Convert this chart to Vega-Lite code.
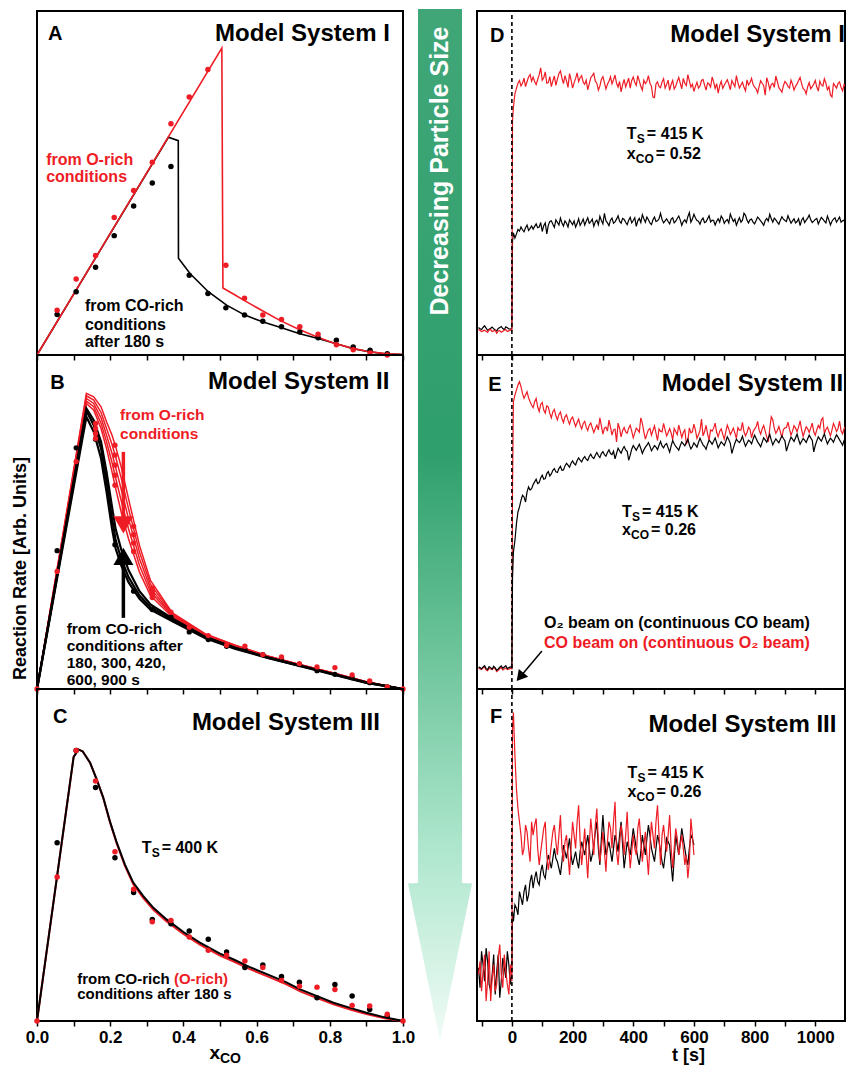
{
"$schema":"https://vega.github.io/schema/vega-lite/v6.json",
"background":"white",
"padding":{"left":9,"top":6,"right":0,"bottom":0},
"config":{"font":"Liberation Sans","view":{"stroke":"black","strokeWidth":2},
"axis":{"grid":false,"domain":false,"tickColor":"black","tickWidth":1.5,"tickSize":5,"labelColor":"black","labelFontSize":17,"labelFontWeight":"bold","labelFont":"Liberation Sans","titleFont":"Liberation Sans","titleColor":"black","titleFontWeight":"bold","labelFlush":false,"labelOverlap":false,"labelBound":false,"labelPadding":3},
"text":{"font":"Liberation Sans","fontWeight":"bold","baseline":"alphabetic","align":"left","color":"#000000"}},
"datasets":{
"A_lines":[
{"s":"b","x":0,"y":0},{"s":"b","x":0.359,"y":0.633},{"s":"b","x":0.386,"y":0.623},{"s":"b","x":0.3865,"y":0.281},{"s":"b","x":0.418,"y":0.237},{"s":"b","x":0.468,"y":0.184},{"s":"b","x":0.518,"y":0.145},{"s":"b","x":0.568,"y":0.116},{"s":"b","x":0.618,"y":0.096},{"s":"b","x":0.668,"y":0.079},{"s":"b","x":0.718,"y":0.062},{"s":"b","x":0.768,"y":0.048},{"s":"b","x":0.818,"y":0.033},{"s":"b","x":0.864,"y":0.018},{"s":"b","x":0.91,"y":0.009},{"s":"b","x":0.955,"y":0.003},{"s":"b","x":1,"y":0.001},
{"s":"r","x":0,"y":0},{"s":"r","x":0.505,"y":0.892},{"s":"r","x":0.508,"y":0.195},{"s":"r","x":0.54,"y":0.175},{"s":"r","x":0.567,"y":0.158},{"s":"r","x":0.617,"y":0.128},{"s":"r","x":0.665,"y":0.1},{"s":"r","x":0.715,"y":0.075},{"s":"r","x":0.764,"y":0.053},{"s":"r","x":0.81,"y":0.035},{"s":"r","x":0.86,"y":0.02},{"s":"r","x":0.9,"y":0.011},{"s":"r","x":0.95,"y":0.004},{"s":"r","x":1,"y":0.001}],
"A_dots":[
{"s":"b","x":0.055,"y":0.118},{"s":"b","x":0.107,"y":0.184},{"s":"b","x":0.16,"y":0.255},{"s":"b","x":0.211,"y":0.347},{"s":"b","x":0.264,"y":0.433},{"s":"b","x":0.315,"y":0.5},{"s":"b","x":0.366,"y":0.548},{"s":"b","x":0.416,"y":0.232},{"s":"b","x":0.467,"y":0.179},{"s":"b","x":0.516,"y":0.137},{"s":"b","x":0.567,"y":0.116},{"s":"b","x":0.617,"y":0.098},{"s":"b","x":0.668,"y":0.082},{"s":"b","x":0.718,"y":0.067},{"s":"b","x":0.768,"y":0.05},{"s":"b","x":0.818,"y":0.043},{"s":"b","x":0.864,"y":0.023},{"s":"b","x":0.91,"y":0.014},{"s":"b","x":0.957,"y":0.004},
{"s":"r","x":0.055,"y":0.13},{"s":"r","x":0.107,"y":0.221},{"s":"r","x":0.16,"y":0.289},{"s":"r","x":0.211,"y":0.4},{"s":"r","x":0.264,"y":0.478},{"s":"r","x":0.315,"y":0.56},{"s":"r","x":0.366,"y":0.672},{"s":"r","x":0.416,"y":0.75},{"s":"r","x":0.467,"y":0.83},{"s":"r","x":0.516,"y":0.261},{"s":"r","x":0.567,"y":0.165},{"s":"r","x":0.617,"y":0.116},{"s":"r","x":0.668,"y":0.103},{"s":"r","x":0.718,"y":0.082},{"s":"r","x":0.768,"y":0.06},{"s":"r","x":0.818,"y":0.03},{"s":"r","x":0.864,"y":0.015},{"s":"r","x":0.91,"y":0.006},{"s":"r","x":0.957,"y":0.0}],
"B_curves":[
{"x":0,"r1":0,"r2":0,"r3":0,"r4":0,"r5":0,"b0":0,"b1":0,"b2":0},
{"x":0.135,"r1":0.885,"r2":0.878,"r3":0.87,"r4":0.862,"r5":0.855,"b0":0.815,"b1":0.832,"b2":0.84},
{"x":0.155,"r1":0.875,"r2":0.865,"r3":0.855,"r4":0.845,"r5":0.835,"b0":0.77,"b1":0.79,"b2":0.805},
{"x":0.175,"r1":0.845,"r2":0.828,"r3":0.812,"r4":0.796,"r5":0.78,"b0":0.69,"b1":0.72,"b2":0.74},
{"x":0.19,"r1":0.8,"r2":0.78,"r3":0.76,"r4":0.74,"r5":0.72,"b0":0.59,"b1":0.62,"b2":0.65},
{"x":0.205,"r1":0.76,"r2":0.732,"r3":0.705,"r4":0.678,"r5":0.65,"b0":0.48,"b1":0.51,"b2":0.545},
{"x":0.215,"r1":0.725,"r2":0.694,"r3":0.662,"r4":0.631,"r5":0.6,"b0":0.42,"b1":0.445,"b2":0.478},
{"x":0.23,"r1":0.665,"r2":0.632,"r3":0.598,"r4":0.564,"r5":0.53,"b0":0.37,"b1":0.39,"b2":0.418},
{"x":0.25,"r1":0.57,"r2":0.54,"r3":0.51,"r4":0.48,"r5":0.45,"b0":0.32,"b1":0.335,"b2":0.356},
{"x":0.28,"r1":0.43,"r2":0.41,"r3":0.39,"r4":0.37,"r5":0.35,"b0":0.27,"b1":0.28,"b2":0.293},
{"x":0.31,"r1":0.325,"r2":0.314,"r3":0.302,"r4":0.291,"r5":0.28,"b0":0.238,"b1":0.245,"b2":0.253},
{"x":0.37,"r1":0.228,"r2":0.225,"r3":0.222,"r4":0.219,"r5":0.215,"b0":0.203,"b1":0.208,"b2":0.211},
{"x":0.46,"r1":0.165,"r2":0.164,"r3":0.163,"r4":0.162,"r5":0.16,"b0":0.152,"b1":0.155,"b2":0.156},
{"x":0.54,"r1":0.132,"r2":0.131,"r3":0.13,"r4":0.129,"r5":0.127,"b0":0.121,"b1":0.123,"b2":0.124},
{"x":0.63,"r1":0.099,"r2":0.099,"r3":0.098,"r4":0.098,"r5":0.097,"b0":0.093,"b1":0.094,"b2":0.095},
{"x":0.72,"r1":0.073,"r2":0.073,"r3":0.072,"r4":0.072,"r5":0.071,"b0":0.068,"b1":0.069,"b2":0.07},
{"x":0.81,"r1":0.048,"r2":0.048,"r3":0.047,"r4":0.047,"r5":0.046,"b0":0.043,"b1":0.044,"b2":0.045},
{"x":0.9,"r1":0.022,"r2":0.022,"r3":0.021,"r4":0.021,"r5":0.02,"b0":0.018,"b1":0.019,"b2":0.02},
{"x":1,"r1":0,"r2":0,"r3":0,"r4":0,"r5":0,"b0":0,"b1":0,"b2":0}],
"B_dots":[
{"s":"b","x":0.055,"y":0.414},{"s":"b","x":0.107,"y":0.722},{"s":"b","x":0.16,"y":0.748},{"s":"b","x":0.213,"y":0.432},{"s":"b","x":0.264,"y":0.293},{"s":"b","x":0.315,"y":0.238},{"s":"b","x":0.366,"y":0.215},{"s":"b","x":0.416,"y":0.171},{"s":"b","x":0.468,"y":0.148},{"s":"b","x":0.518,"y":0.128},{"s":"b","x":0.568,"y":0.118},{"s":"b","x":0.617,"y":0.103},{"s":"b","x":0.668,"y":0.093},{"s":"b","x":0.717,"y":0.073},{"s":"b","x":0.765,"y":0.055},{"s":"b","x":0.814,"y":0.044},{"s":"b","x":0.861,"y":0.034},{"s":"b","x":0.909,"y":0.019},{"s":"b","x":0.957,"y":0.006},
{"s":"r","x":0,"y":0},{"s":"r","x":0.055,"y":0.352},{"s":"r","x":0.107,"y":0.681},{"s":"r","x":0.16,"y":0.795},{"s":"r","x":0.16,"y":0.78},{"s":"r","x":0.16,"y":0.765},{"s":"r","x":0.16,"y":0.75},{"s":"r","x":0.213,"y":0.73},{"s":"r","x":0.213,"y":0.7},{"s":"r","x":0.213,"y":0.67},{"s":"r","x":0.213,"y":0.64},{"s":"r","x":0.213,"y":0.61},{"s":"r","x":0.264,"y":0.487},{"s":"r","x":0.264,"y":0.462},{"s":"r","x":0.264,"y":0.437},{"s":"r","x":0.264,"y":0.412},{"s":"r","x":0.315,"y":0.302},{"s":"r","x":0.315,"y":0.292},{"s":"r","x":0.315,"y":0.283},{"s":"r","x":0.315,"y":0.274},{"s":"r","x":0.366,"y":0.23},{"s":"r","x":0.416,"y":0.185},{"s":"r","x":0.468,"y":0.16},{"s":"r","x":0.518,"y":0.131},{"s":"r","x":0.568,"y":0.128},{"s":"r","x":0.617,"y":0.103},{"s":"r","x":0.668,"y":0.096},{"s":"r","x":0.717,"y":0.076},{"s":"r","x":0.765,"y":0.066},{"s":"r","x":0.814,"y":0.064},{"s":"r","x":0.861,"y":0.042},{"s":"r","x":0.909,"y":0.024},{"s":"r","x":0.957,"y":0.006},{"s":"r","x":1,"y":0}],
"C_curves":[
{"x":0,"b":0,"r":0},{"x":0.1,"b":0.795,"r":0.795},{"x":0.113,"b":0.818,"r":0.818},{"x":0.125,"b":0.812,"r":0.812},{"x":0.145,"b":0.778,"r":0.778},{"x":0.163,"b":0.728,"r":0.728},{"x":0.181,"b":0.673,"r":0.672},{"x":0.199,"b":0.602,"r":0.6},{"x":0.218,"b":0.537,"r":0.534},{"x":0.24,"b":0.472,"r":0.468},{"x":0.263,"b":0.417,"r":0.412},{"x":0.29,"b":0.377,"r":0.371},{"x":0.318,"b":0.341,"r":0.335},{"x":0.354,"b":0.306,"r":0.3},{"x":0.4,"b":0.268,"r":0.262},{"x":0.445,"b":0.236,"r":0.23},{"x":0.5,"b":0.203,"r":0.197},{"x":0.536,"b":0.186,"r":0.18},{"x":0.58,"b":0.163,"r":0.157},{"x":0.628,"b":0.141,"r":0.135},{"x":0.68,"b":0.117,"r":0.111},{"x":0.719,"b":0.095,"r":0.089},{"x":0.76,"b":0.077,"r":0.071},{"x":0.81,"b":0.055,"r":0.05},{"x":0.86,"b":0.038,"r":0.033},{"x":0.9,"b":0.025,"r":0.021},{"x":0.95,"b":0.011,"r":0.008},{"x":1,"b":0,"r":0}],
"C_dots":[
{"s":"b","x":0.055,"y":0.537},{"s":"b","x":0.107,"y":0.815},{"s":"b","x":0.16,"y":0.703},{"s":"b","x":0.213,"y":0.492},{"s":"b","x":0.264,"y":0.387},{"s":"b","x":0.315,"y":0.306},{"s":"b","x":0.366,"y":0.293},{"s":"b","x":0.416,"y":0.271},{"s":"b","x":0.468,"y":0.246},{"s":"b","x":0.518,"y":0.208},{"s":"b","x":0.568,"y":0.161},{"s":"b","x":0.617,"y":0.169},{"s":"b","x":0.668,"y":0.134},{"s":"b","x":0.717,"y":0.117},{"s":"b","x":0.765,"y":0.07},{"s":"b","x":0.814,"y":0.11},{"s":"b","x":0.861,"y":0.075},{"s":"b","x":0.909,"y":0.035},{"s":"b","x":0.957,"y":0.015},
{"s":"r","x":0,"y":0},{"s":"r","x":0.055,"y":0.434},{"s":"r","x":0.107,"y":0.815},{"s":"r","x":0.16,"y":0.723},{"s":"r","x":0.213,"y":0.51},{"s":"r","x":0.264,"y":0.397},{"s":"r","x":0.315,"y":0.299},{"s":"r","x":0.366,"y":0.303},{"s":"r","x":0.416,"y":0.253},{"s":"r","x":0.468,"y":0.213},{"s":"r","x":0.518,"y":0.198},{"s":"r","x":0.568,"y":0.181},{"s":"r","x":0.617,"y":0.161},{"s":"r","x":0.668,"y":0.122},{"s":"r","x":0.717,"y":0.105},{"s":"r","x":0.765,"y":0.102},{"s":"r","x":0.814,"y":0.095},{"s":"r","x":0.861,"y":0.047},{"s":"r","x":0.909,"y":0.045},{"s":"r","x":0.957,"y":0.02},{"s":"r","x":1,"y":0}],
"traces":[
{"t":-110,"Dr":75,"Db":80,"Er":62,"Eb":66,"Fr":140,"Fb":160},
{"t":-100,"Dr":68,"Db":74,"Er":58,"Eb":60,"Fr":90,"Fb":210},
{"t":-90,"Dr":72,"Db":85,"Er":66,"Eb":70,"Fr":200,"Fb":120},
{"t":-80,"Dr":66,"Db":72,"Er":55,"Eb":58,"Fr":120,"Fb":180},
{"t":-70,"Dr":74,"Db":78,"Er":60,"Eb":64,"Fr":60,"Fb":90},
{"t":-60,"Dr":70,"Db":76,"Er":64,"Eb":68,"Fr":170,"Fb":200},
{"t":-50,"Dr":63,"Db":70,"Er":52,"Eb":56,"Fr":110,"Fb":150},
{"t":-40,"Dr":71,"Db":80,"Er":61,"Eb":65,"Fr":230,"Fb":70},
{"t":-30,"Dr":69,"Db":77,"Er":57,"Eb":62,"Fr":100,"Fb":190},
{"t":-20,"Dr":74,"Db":82,"Er":63,"Eb":70,"Fr":150,"Fb":130},
{"t":-10,"Dr":70,"Db":76,"Er":59,"Eb":64,"Fr":80,"Fb":170},
{"t":0,"Dr":72,"Db":78,"Er":60,"Eb":64,"Fr":120,"Fb":150},
{"t":2,"Dr":680,"Db":330,"Er":600,"Eb":330,"Fr":880,"Fb":330},
{"t":5,"Dr":720,"Db":355,"Er":860,"Eb":410,"Fr":929,"Fb":300},
{"t":10,"Dr":760,"Db":340,"Er":880,"Eb":445,"Fr":800,"Fb":350},
{"t":20,"Dr":790,"Db":365,"Er":910,"Eb":530,"Fr":640,"Fb":320},
{"t":30,"Dr":782,"Db":372,"Er":905,"Eb":565,"Fr":560,"Fb":370},
{"t":40,"Dr":805,"Db":358,"Er":870,"Eb":575,"Fr":520,"Fb":390},
{"t":50,"Dr":795,"Db":378,"Er":890,"Eb":590,"Fr":570,"Fb":360},
{"t":60,"Dr":815,"Db":368,"Er":860,"Eb":596,"Fr":480,"Fb":420},
{"t":70,"Dr":808,"Db":366,"Er":842,"Eb":612,"Fr":560,"Fb":400},
{"t":80,"Dr":786,"Db":381,"Er":870,"Eb":628,"Fr":610,"Fb":450},
{"t":90,"Dr":815,"Db":372,"Er":831,"Eb":618,"Fr":470,"Fb":410},
{"t":100,"Dr":799,"Db":359,"Er":858,"Eb":640,"Fr":545,"Fb":470},
{"t":110,"Dr":823,"Db":384,"Er":826,"Eb":630,"Fr":600,"Fb":430},
{"t":120,"Dr":792,"Db":377,"Er":844,"Eb":651,"Fr":455,"Fb":500},
{"t":130,"Dr":780,"Db":390,"Er":812,"Eb":644,"Fr":530,"Fb":460},
{"t":140,"Dr":811,"Db":371,"Er":837,"Eb":660,"Fr":590,"Fb":520},
{"t":150,"Dr":802,"Db":386,"Er":806,"Eb":648,"Fr":500,"Fb":480},
{"t":160,"Dr":826,"Db":398,"Er":829,"Eb":667,"Fr":620,"Fb":440},
{"t":170,"Dr":789,"Db":375,"Er":798,"Eb":656,"Fr":480,"Fb":530},
{"t":180,"Dr":797,"Db":383,"Er":821,"Eb":676,"Fr":560,"Fb":490},
{"t":190,"Dr":818,"Db":393,"Er":793,"Eb":664,"Fr":440,"Fb":550},
{"t":200,"Dr":776,"Db":379,"Er":814,"Eb":683,"Fr":600,"Fb":470},
{"t":210,"Dr":804,"Db":372,"Er":786,"Eb":671,"Fr":520,"Fb":510},
{"t":220,"Dr":795,"Db":396,"Er":808,"Eb":692,"Fr":650,"Fb":460},
{"t":230,"Dr":812,"Db":385,"Er":779,"Eb":680,"Fr":470,"Fb":540},
{"t":240,"Dr":787,"Db":378,"Er":801,"Eb":696,"Fr":580,"Fb":500},
{"t":250,"Dr":771,"Db":399,"Er":774,"Eb":684,"Fr":430,"Fb":560},
{"t":260,"Dr":806,"Db":388,"Er":797,"Eb":703,"Fr":610,"Fb":480},
{"t":270,"Dr":819,"Db":374,"Er":768,"Eb":690,"Fr":500,"Fb":530},
{"t":280,"Dr":790,"Db":392,"Er":790,"Eb":708,"Fr":640,"Fb":600},
{"t":290,"Dr":782,"Db":403,"Er":812,"Eb":693,"Fr":480,"Fb":470},
{"t":300,"Dr":809,"Db":381,"Er":763,"Eb":711,"Fr":570,"Fb":620},
{"t":310,"Dr":773,"Db":390,"Er":784,"Eb":697,"Fr":450,"Fb":500},
{"t":320,"Dr":796,"Db":376,"Er":805,"Eb":716,"Fr":600,"Fb":540},
{"t":330,"Dr":788,"Db":398,"Er":760,"Eb":702,"Fr":520,"Fb":480},
{"t":340,"Dr":814,"Db":387,"Er":778,"Eb":689,"Fr":660,"Fb":560},
{"t":350,"Dr":779,"Db":405,"Er":796,"Eb":721,"Fr":470,"Fb":510},
{"t":360,"Dr":765,"Db":383,"Er":755,"Eb":706,"Fr":590,"Fb":600},
{"t":370,"Dr":801,"Db":394,"Er":783,"Eb":726,"Fr":500,"Fb":460},
{"t":380,"Dr":792,"Db":379,"Er":766,"Eb":712,"Fr":630,"Fb":540},
{"t":390,"Dr":776,"Db":400,"Er":790,"Eb":700,"Fr":460,"Fb":500},
{"t":400,"Dr":808,"Db":391,"Er":752,"Eb":729,"Fr":560,"Fb":580},
{"t":410,"Dr":784,"Db":374,"Er":781,"Eb":715,"Fr":500,"Fb":520},
{"t":420,"Dr":797,"Db":397,"Er":769,"Eb":733,"Fr":610,"Fb":470},
{"t":430,"Dr":770,"Db":408,"Er":795,"Eb":705,"Fr":480,"Fb":560},
{"t":440,"Dr":789,"Db":386,"Er":748,"Eb":724,"Fr":570,"Fb":500},
{"t":450,"Dr":812,"Db":393,"Er":776,"Eb":738,"Fr":440,"Fb":590},
{"t":460,"Dr":781,"Db":379,"Er":760,"Eb":713,"Fr":600,"Fb":520},
{"t":470,"Dr":748,"Db":401,"Er":788,"Eb":729,"Fr":520,"Fb":480},
{"t":480,"Dr":794,"Db":390,"Er":744,"Eb":717,"Fr":650,"Fb":560},
{"t":490,"Dr":777,"Db":412,"Er":772,"Eb":741,"Fr":470,"Fb":510},
{"t":500,"Dr":803,"Db":384,"Er":795,"Eb":722,"Fr":590,"Fb":460},
{"t":510,"Dr":786,"Db":396,"Er":758,"Eb":735,"Fr":510,"Fb":550},
{"t":520,"Dr":769,"Db":381,"Er":780,"Eb":709,"Fr":620,"Fb":530},
{"t":530,"Dr":798,"Db":399,"Er":746,"Eb":744,"Fr":460,"Fb":420},
{"t":540,"Dr":781,"Db":389,"Er":771,"Eb":726,"Fr":580,"Fb":560},
{"t":550,"Dr":807,"Db":404,"Er":790,"Eb":715,"Fr":500,"Fb":500},
{"t":560,"Dr":774,"Db":377,"Er":753,"Eb":740,"Fr":560,"Fb":580},
{"t":570,"Dr":790,"Db":393,"Er":776,"Eb":728,"Fr":470,"Fb":520},
{"t":580,"Dr":815,"Db":402,"Er":742,"Eb":748,"Fr":430,"Fb":470},
{"t":590,"Dr":779,"Db":386,"Er":767,"Eb":719,"Fr":610,"Fb":560},
{"t":600,"Dr":766,"Db":409,"Er":793,"Eb":737,"Fr":500,"Fb":530},
{"t":610,"Dr":793,"Db":391,"Er":750,"Eb":724},
{"t":620,"Dr":782,"Db":380,"Er":774,"Eb":751},
{"t":630,"Dr":801,"Db":398,"Er":758,"Eb":731},
{"t":640,"Dr":770,"Db":387,"Er":789,"Eb":718},
{"t":650,"Dr":788,"Db":405,"Er":745,"Eb":745},
{"t":660,"Dr":808,"Db":392,"Er":772,"Eb":733},
{"t":670,"Dr":775,"Db":378,"Er":796,"Eb":752},
{"t":680,"Dr":761,"Db":396,"Er":755,"Eb":722},
{"t":690,"Dr":796,"Db":404,"Er":779,"Eb":740},
{"t":700,"Dr":784,"Db":383,"Er":748,"Eb":729},
{"t":710,"Dr":800,"Db":394,"Er":790,"Eb":755},
{"t":720,"Dr":771,"Db":410,"Er":762,"Eb":735},
{"t":730,"Dr":789,"Db":388,"Er":781,"Eb":721},
{"t":740,"Dr":812,"Db":377,"Er":750,"Eb":748},
{"t":750,"Dr":776,"Db":399,"Er":775,"Eb":738},
{"t":760,"Dr":793,"Db":392,"Er":798,"Eb":757},
{"t":770,"Dr":768,"Db":406,"Er":758,"Eb":727},
{"t":780,"Dr":785,"Db":384,"Er":784,"Eb":745},
{"t":790,"Dr":804,"Db":395,"Er":752,"Eb":734},
{"t":800,"Dr":779,"Db":381,"Er":778,"Eb":760},
{"t":810,"Dr":762,"Db":401,"Er":801,"Eb":740},
{"t":820,"Dr":797,"Db":390,"Er":763,"Eb":725},
{"t":830,"Dr":783,"Db":377,"Er":789,"Eb":752},
{"t":840,"Dr":806,"Db":397,"Er":755,"Eb":739},
{"t":850,"Dr":772,"Db":409,"Er":780,"Eb":762},
{"t":860,"Dr":790,"Db":386,"Er":806,"Eb":731},
{"t":870,"Dr":811,"Db":393,"Er":766,"Eb":749},
{"t":880,"Dr":777,"Db":380,"Er":786,"Eb":737},
{"t":890,"Dr":764,"Db":402,"Er":752,"Eb":758},
{"t":900,"Dr":795,"Db":391,"Er":782,"Eb":743},
{"t":910,"Dr":781,"Db":405,"Er":799,"Eb":728},
{"t":920,"Dr":799,"Db":383,"Er":760,"Eb":754},
{"t":930,"Dr":770,"Db":396,"Er":788,"Eb":741},
{"t":940,"Dr":788,"Db":388,"Er":770,"Eb":763},
{"t":950,"Dr":807,"Db":376,"Er":803,"Eb":733},
{"t":960,"Dr":774,"Db":399,"Er":757,"Eb":750},
{"t":970,"Dr":759,"Db":392,"Er":785,"Eb":738},
{"t":980,"Dr":792,"Db":407,"Er":768,"Eb":760},
{"t":990,"Dr":780,"Db":385,"Er":796,"Eb":745},
{"t":1000,"Dr":798,"Db":394,"Er":760,"Eb":729},
{"t":1010,"Dr":767,"Db":381,"Er":789,"Eb":755},
{"t":1020,"Dr":785,"Db":400,"Er":806,"Eb":742},
{"t":1030,"Dr":803,"Db":389,"Er":765,"Eb":764},
{"t":1040,"Dr":771,"Db":404,"Er":784,"Eb":734},
{"t":1050,"Dr":756,"Db":378,"Er":758,"Eb":751},
{"t":1060,"Dr":789,"Db":395,"Er":795,"Eb":739},
{"t":1070,"Dr":776,"Db":386,"Er":771,"Eb":761},
{"t":1080,"Dr":794,"Db":401,"Er":802,"Eb":746},
{"t":1090,"Dr":768,"Db":390,"Er":764,"Eb":730},
{"t":1100,"Dr":781,"Db":383,"Er":787,"Eb":753},
{"t":-105,"Dr":71,"Db":76,"Er":60,"Eb":64,"Fr":180,"Fb":100},
{"t":-95,"Dr":70,"Db":80,"Er":63,"Eb":66,"Fr":150,"Fb":170},
{"t":-85,"Dr":69,"Db":78,"Er":57,"Eb":61,"Fr":60,"Fb":220},
{"t":-75,"Dr":73,"Db":75,"Er":62,"Eb":67,"Fr":210,"Fb":110},
{"t":-65,"Dr":68,"Db":81,"Er":58,"Eb":59,"Fr":130,"Fb":140},
{"t":-55,"Dr":72,"Db":73,"Er":61,"Eb":63,"Fr":90,"Fb":80},
{"t":-45,"Dr":70,"Db":77,"Er":56,"Eb":60,"Fr":190,"Fb":200},
{"t":-35,"Dr":66,"Db":83,"Er":64,"Eb":69,"Fr":140,"Fb":120},
{"t":-25,"Dr":72,"Db":74,"Er":60,"Eb":66,"Fr":200,"Fb":160},
{"t":-15,"Dr":68,"Db":79,"Er":58,"Eb":61,"Fr":110,"Fb":210},
{"t":-5,"Dr":73,"Db":75,"Er":62,"Eb":66,"Fr":170,"Fb":110},
{"t":15,"Dr":775,"Db":352,"Er":895,"Eb":495,"Fr":700,"Fb":340},
{"t":25,"Dr":798,"Db":360,"Er":920,"Eb":545,"Fr":600,"Fb":390},
{"t":35,"Dr":790,"Db":364,"Er":885,"Eb":580,"Fr":500,"Fb":350},
{"t":45,"Dr":780,"Db":370,"Er":880,"Eb":560,"Fr":590,"Fb":410},
{"t":55,"Dr":808,"Db":362,"Er":872,"Eb":605,"Fr":520,"Fb":380},
{"t":65,"Dr":796,"Db":375,"Er":850,"Eb":600,"Fr":600,"Fb":440},
{"t":75,"Dr":795,"Db":374,"Er":860,"Eb":620,"Fr":590,"Fb":430},
{"t":85,"Dr":801,"Db":370,"Er":845,"Eb":615,"Fr":520,"Fb":420},
{"t":95,"Dr":835,"Db":385,"Er":852,"Eb":632,"Fr":510,"Fb":450},
{"t":105,"Dr":806,"Db":376,"Er":835,"Eb":628,"Fr":580,"Fb":440},
{"t":115,"Dr":790,"Db":352,"Er":848,"Eb":645,"Fr":500,"Fb":470},
{"t":125,"Dr":809,"Db":388,"Er":825,"Eb":638,"Fr":490,"Fb":480},
{"t":135,"Dr":797,"Db":380,"Er":830,"Eb":655,"Fr":570,"Fb":490},
{"t":145,"Dr":784,"Db":393,"Er":818,"Eb":650,"Fr":540,"Fb":490},
{"t":155,"Dr":818,"Db":378,"Er":822,"Eb":660,"Fr":560,"Fb":460},
{"t":165,"Dr":805,"Db":384,"Er":810,"Eb":655,"Fr":520,"Fb":480},
{"t":175,"Dr":812,"Db":390,"Er":815,"Eb":668,"Fr":540,"Fb":510},
{"t":185,"Dr":778,"Db":372,"Er":805,"Eb":670,"Fr":500,"Fb":520},
{"t":195,"Dr":800,"Db":386,"Er":808,"Eb":676,"Fr":520,"Fb":500},
{"t":205,"Dr":791,"Db":390,"Er":800,"Eb":675,"Fr":560,"Fb":490},
{"t":215,"Dr":820,"Db":382,"Er":798,"Eb":684,"Fr":600,"Fb":480},
{"t":225,"Dr":806,"Db":377,"Er":790,"Eb":685,"Fr":540,"Fb":510},
{"t":235,"Dr":793,"Db":395,"Er":795,"Eb":690,"Fr":520,"Fb":520},
{"t":245,"Dr":799,"Db":389,"Er":784,"Eb":688,"Fr":500,"Fb":530},
{"t":255,"Dr":788,"Db":383,"Er":790,"Eb":696,"Fr":530,"Fb":520},
{"t":265,"Dr":812,"Db":395,"Er":782,"Eb":694,"Fr":560,"Fb":500},
{"t":275,"Dr":796,"Db":387,"Er":780,"Eb":700,"Fr":590,"Fb":570},
{"t":285,"Dr":770,"Db":379,"Er":776,"Eb":699,"Fr":540,"Fb":520},
{"t":295,"Dr":801,"Db":391,"Er":788,"Eb":705,"Fr":520,"Fb":550},
{"t":305,"Dr":792,"Db":412,"Er":781,"Eb":702,"Fr":510,"Fb":550},
{"t":315,"Dr":787,"Db":384,"Er":772,"Eb":708,"Fr":540,"Fb":520},
{"t":325,"Dr":809,"Db":392,"Er":784,"Eb":705,"Fr":580,"Fb":510},
{"t":335,"Dr":800,"Db":383,"Er":776,"Eb":712,"Fr":600,"Fb":520},
{"t":345,"Dr":790,"Db":395,"Er":740,"Eb":705,"Fr":510,"Fb":540},
{"t":355,"Dr":795,"Db":389,"Er":780,"Eb":713,"Fr":530,"Fb":560},
{"t":365,"Dr":786,"Db":397,"Er":774,"Eb":718,"Fr":560,"Fb":530},
{"t":375,"Dr":779,"Db":386,"Er":770,"Eb":716,"Fr":560,"Fb":500},
{"t":385,"Dr":805,"Db":392,"Er":781,"Eb":685,"Fr":530,"Fb":520},
{"t":395,"Dr":798,"Db":384,"Er":772,"Eb":718,"Fr":510,"Fb":540},
{"t":405,"Dr":793,"Db":399,"Er":766,"Eb":722,"Fr":520,"Fb":550},
{"t":415,"Dr":812,"Db":390,"Er":776,"Eb":724,"Fr":580,"Fb":490},
{"t":425,"Dr":781,"Db":385,"Er":812,"Eb":720,"Fr":540,"Fb":510},
{"t":435,"Dr":799,"Db":396,"Er":770,"Eb":716,"Fr":530,"Fb":530},
{"t":445,"Dr":795,"Db":401,"Er":763,"Eb":730,"Fr":500,"Fb":550},
{"t":455,"Dr":790,"Db":384,"Er":780,"Eb":727,"Fr":530,"Fb":560},
{"t":465,"Dr":750,"Db":393,"Er":774,"Eb":721,"Fr":560,"Fb":500},
{"t":475,"Dr":788,"Db":388,"Er":766,"Eb":724,"Fr":600,"Fb":520},
{"t":485,"Dr":780,"Db":396,"Er":778,"Eb":730,"Fr":560,"Fb":540},
{"t":495,"Dr":794,"Db":394,"Er":770,"Eb":728,"Fr":560,"Fb":480},
{"t":505,"Dr":776,"Db":390,"Er":776,"Eb":731,"Fr":540,"Fb":500},
{"t":515,"Dr":799,"Db":388,"Er":768,"Eb":722,"Fr":560,"Fb":540},
{"t":525,"Dr":787,"Db":395,"Er":766,"Eb":728,"Fr":520,"Fb":470},
{"t":535,"Dr":773,"Db":384,"Er":780,"Eb":734,"Fr":520,"Fb":490},
{"t":545,"Dr":795,"Db":397,"Er":762,"Eb":721,"Fr":550,"Fb":530},
{"t":555,"Dr":790,"Db":392,"Er":772,"Eb":729,"Fr":530,"Fb":540},
{"t":565,"Dr":804,"Db":388,"Er":768,"Eb":734,"Fr":520,"Fb":550},
{"t":575,"Dr":783,"Db":385,"Er":735,"Eb":738,"Fr":500,"Fb":490},
{"t":585,"Dr":797,"Db":414,"Er":782,"Eb":731,"Fr":480,"Fb":520},
{"t":595,"Dr":787,"Db":395,"Er":770,"Eb":726,"Fr":560,"Fb":550},
{"t":605,"Dr":781,"Db":398,"Er":775,"Eb":731},
{"t":615,"Dr":776,"Db":389,"Er":761,"Eb":738},
{"t":625,"Dr":798,"Db":392,"Er":808,"Eb":740},
{"t":635,"Dr":785,"Db":385,"Er":770,"Eb":726},
{"t":645,"Dr":791,"Db":396,"Er":764,"Eb":733},
{"t":655,"Dr":779,"Db":387,"Er":776,"Eb":740},
{"t":665,"Dr":794,"Db":391,"Er":781,"Eb":742},
{"t":675,"Dr":789,"Db":389,"Er":768,"Eb":737},
{"t":685,"Dr":783,"Db":386,"Er":772,"Eb":731},
{"t":695,"Dr":775,"Db":397,"Er":763,"Eb":735},
{"t":705,"Dr":792,"Db":390,"Er":769,"Eb":741},
{"t":715,"Dr":787,"Db":384,"Er":778,"Eb":746},
{"t":725,"Dr":798,"Db":398,"Er":771,"Eb":705},
{"t":735,"Dr":780,"Db":395,"Er":766,"Eb":736},
{"t":745,"Dr":792,"Db":389,"Er":783,"Eb":742},
{"t":755,"Dr":785,"Db":386,"Er":775,"Eb":745},
{"t":765,"Dr":779,"Db":412,"Er":770,"Eb":740},
{"t":775,"Dr":800,"Db":392,"Er":768,"Eb":736},
{"t":785,"Dr":792,"Db":393,"Er":777,"Eb":741},
{"t":795,"Dr":786,"Db":386,"Er":770,"Eb":748},
{"t":805,"Dr":774,"Db":391,"Er":785,"Eb":750},
{"t":815,"Dr":781,"Db":396,"Er":775,"Eb":733},
{"t":825,"Dr":790,"Db":384,"Er":779,"Eb":739},
{"t":835,"Dr":755,"Db":391,"Er":772,"Eb":746},
{"t":845,"Dr":792,"Db":389,"Er":740,"Eb":751},
{"t":855,"Dr":786,"Db":396,"Er":815,"Eb":745},
{"t":865,"Dr":778,"Db":398,"Er":780,"Eb":740},
{"t":875,"Dr":795,"Db":386,"Er":774,"Eb":743},
{"t":885,"Dr":771,"Db":392,"Er":770,"Eb":748},
{"t":895,"Dr":783,"Db":395,"Er":777,"Eb":750},
{"t":905,"Dr":790,"Db":388,"Er":783,"Eb":712},
{"t":915,"Dr":776,"Db":394,"Er":778,"Eb":742},
{"t":925,"Dr":787,"Db":390,"Er":772,"Eb":748},
{"t":935,"Dr":781,"Db":384,"Er":781,"Eb":752},
{"t":945,"Dr":798,"Db":396,"Er":785,"Eb":747},
{"t":955,"Dr":789,"Db":392,"Er":776,"Eb":742},
{"t":965,"Dr":771,"Db":385,"Er":771,"Eb":745},
{"t":975,"Dr":780,"Db":398,"Er":779,"Eb":749},
{"t":985,"Dr":774,"Db":393,"Er":782,"Eb":752},
{"t":995,"Dr":788,"Db":389,"Er":770,"Eb":710},
{"t":1005,"Dr":779,"Db":397,"Er":776,"Eb":743},
{"t":1015,"Dr":796,"Db":391,"Er":781,"Eb":748},
{"t":1025,"Dr":782,"Db":395,"Er":812,"Eb":753},
{"t":1035,"Dr":790,"Db":384,"Er":777,"Eb":748},
{"t":1045,"Dr":780,"Db":392,"Er":771,"Eb":743},
{"t":1055,"Dr":750,"Db":389,"Er":775,"Eb":746},
{"t":1065,"Dr":783,"Db":399,"Er":784,"Eb":751},
{"t":1075,"Dr":789,"Db":393,"Er":780,"Eb":754},
{"t":1085,"Dr":778,"Db":386,"Er":773,"Eb":738},
{"t":1095,"Dr":786,"Db":392,"Er":779,"Eb":744}]
},
"columns":3,"spacing":0,"bounds":"flush",
"concat":[
{"width":366,"height":344,
"encoding":{"x":{"field":"x","type":"quantitative","scale":{"domain":[0,1]},"axis":{"values":[0,0.1,0.2,0.3,0.4,0.5,0.6,0.7,0.8,0.9,1],"labels":false,"title":null}},
"y":{"field":"y","type":"quantitative","scale":{"domain":[0,1]},"axis":null}},
"layer":[
{"data":{"name":"A_lines"},"mark":{"type":"line","strokeWidth":1.6},"encoding":{"color":{"field":"s","type":"nominal","scale":{"domain":["b","r"],"range":["#000000","#ee1c25"]},"legend":null}}},
{"data":{"name":"A_dots"},"mark":{"type":"point","filled":true,"size":30,"opacity":1},"encoding":{"color":{"field":"s","type":"nominal","scale":{"domain":["b","r"],"range":["#000000","#ee1c25"]},"legend":null}}},
{"data":{"values":[{"x":0.03,"y":0.917,"txt":"A"}]},"mark":{"type":"text","fontSize":20},"encoding":{"text":{"field":"txt"}}},
{"data":{"values":[{"x":0.964,"y":0.914,"txt":"Model System I"}]},"mark":{"type":"text","fontSize":24,"align":"right"},"encoding":{"text":{"field":"txt"}}},
{"data":{"values":[{"x":0.025,"y":0.553,"txt":"from O-rich"},{"x":0.025,"y":0.504,"txt":"conditions"}]},"mark":{"type":"text","fontSize":16,"color":"#ee1c25"},"encoding":{"text":{"field":"txt"}}},
{"data":{"values":[{"x":0.131,"y":0.127,"txt":"from CO-rich"},{"x":0.131,"y":0.074,"txt":"conditions"},{"x":0.131,"y":0.023,"txt":"after 180 s"}]},"mark":{"type":"text","fontSize":16},"encoding":{"text":{"field":"txt"}}}
]},
{"width":74,"height":344,"view":{"stroke":null},
"layer":[
{"data":{"values":[{"p":-2,"lo":-22,"hi":22},{"p":872,"lo":-22,"hi":22},{"p":872.5,"lo":-32,"hi":32},{"p":1030,"lo":0,"hi":0}]},
"mark":{"type":"area","orient":"horizontal","color":{"gradient":"linear","x1":0,"y1":0,"x2":0,"y2":1,"stops":[{"offset":0,"color":"#40a678"},{"offset":0.43,"color":"#2f9f6d"},{"offset":0.575,"color":"#5cbb8e"},{"offset":0.817,"color":"#afe7ce"},{"offset":1,"color":"#f0fbf6"}]}},
"encoding":{"y":{"field":"p","type":"quantitative","scale":{"domain":[0,344],"reverse":true},"axis":null},"x":{"field":"lo","type":"quantitative","scale":{"domain":[-37,37]},"axis":null},"x2":{"field":"hi"}}},
{"data":{"values":[{"p":160,"lo":0,"txt":"Decreasing Particle Size"}]},"mark":{"type":"text","angle":270,"color":"white","fontSize":25,"align":"center","baseline":"middle"},
"encoding":{"y":{"field":"p","type":"quantitative","scale":{"domain":[0,344],"reverse":true},"axis":null},"x":{"field":"lo","type":"quantitative","scale":{"domain":[-37,37]},"axis":null},"text":{"field":"txt"}}}
]},
{"width":368,"height":344,
"encoding":{"x":{"field":"t","type":"quantitative","scale":{"domain":[-115,1098]},"axis":{"values":[-100,0,100,200,300,400,500,600,700,800,900,1000],"labels":false,"title":null}},
"y":{"field":"v","type":"quantitative","scale":{"domain":[0,1000]},"axis":null}},
"layer":[
{"data":{"name":"traces"},"transform":[{"fold":["Db","Dr"],"as":["s","v"]}],"mark":{"type":"line","strokeWidth":1.2,"clip":true},"encoding":{"color":{"field":"s","type":"nominal","scale":{"domain":["Db","Dr"],"range":["#000000","#ee1c25"]},"legend":null}}},
{"data":{"values":[{"t":0,"v":0},{"t":0,"v":1000}]},"mark":{"type":"line","color":"#000000","strokeWidth":1.6,"strokeDash":[4,3]},"encoding":{}},
{"data":{"values":[{"t":-72,"v":911,"txt":"D"}]},"mark":{"type":"text","fontSize":20},"encoding":{"text":{"field":"txt"}}},
{"data":{"values":[{"t":522,"v":911,"txt":"Model System I"}]},"mark":{"type":"text","fontSize":24,"clip":true},"encoding":{"text":{"field":"txt"}}},
{"data":{"values":[{"t":379,"v":628,"b":"T"},{"t":379,"v":570,"b":"x"}]},"mark":{"type":"text","fontSize":16},"encoding":{"text":{"field":"b"}}},
{"data":{"values":[{"t":379,"v":628,"s":"S","r":"= 415 K"}]},"mark":{"type":"text","fontSize":12,"dx":10,"dy":4},"encoding":{"text":{"field":"s"}}},
{"data":{"values":[{"t":379,"v":628,"s":"S","r":"= 415 K"}]},"mark":{"type":"text","fontSize":16,"dx":20},"encoding":{"text":{"field":"r"}}},
{"data":{"values":[{"t":379,"v":570,"s":"CO","r":"= 0.52"}]},"mark":{"type":"text","fontSize":12,"dx":9,"dy":4},"encoding":{"text":{"field":"s"}}},
{"data":{"values":[{"t":379,"v":570,"s":"CO","r":"= 0.52"}]},"mark":{"type":"text","fontSize":16,"dx":29},"encoding":{"text":{"field":"r"}}}
]},
{"width":366,"height":334,
"encoding":{"x":{"field":"x","type":"quantitative","scale":{"domain":[0,1]},"axis":{"values":[0,0.1,0.2,0.3,0.4,0.5,0.6,0.7,0.8,0.9,1],"labels":false,"title":null}},
"y":{"field":"y","type":"quantitative","scale":{"domain":[0,1]},"axis":{"title":"Reaction Rate [Arb. Units]","labels":false,"ticks":false,"domain":false,"titleX":-17,"titleY":213,"titleAngle":270,"titleAlign":"center","titleBaseline":"middle","titleFontSize":18}}},
"layer":[
{"data":{"name":"B_curves"},"transform":[{"fold":["r1","r2","r3","r4","r5"],"as":["c","y"]}],"mark":{"type":"line","color":"#ee1c25","strokeWidth":1.5},"encoding":{"detail":{"field":"c"}}},
{"data":{"name":"B_curves"},"transform":[{"fold":["b0","b1","b2"],"as":["c","y"]}],"mark":{"type":"line","color":"#000000","strokeWidth":2.2},"encoding":{"detail":{"field":"c"}}},
{"data":{"name":"B_dots"},"mark":{"type":"point","filled":true,"size":28,"opacity":1},"encoding":{"color":{"field":"s","type":"nominal","scale":{"domain":["b","r"],"range":["#000000","#ee1c25"]},"legend":null}}},
{"data":{"values":[{"x":0.236,"y":0.71},{"x":0.236,"y":0.515}]},"mark":{"type":"line","color":"#ee1c25","strokeWidth":3.5},"encoding":{}},
{"data":{"values":[{"x":0.236,"y":0.4915}]},"mark":{"type":"point","shape":"triangle-down","size":400,"filled":true,"opacity":1,"color":"#ee1c25"},"encoding":{}},
{"data":{"values":[{"x":0.236,"y":0.213},{"x":0.236,"y":0.375}]},"mark":{"type":"line","color":"#000000","strokeWidth":3.5},"encoding":{}},
{"data":{"values":[{"x":0.236,"y":0.397}]},"mark":{"type":"point","shape":"triangle-up","size":400,"filled":true,"opacity":1,"color":"#000000"},"encoding":{}},
{"data":{"values":[{"x":0.036,"y":0.899,"txt":"B"}]},"mark":{"type":"text","fontSize":20},"encoding":{"text":{"field":"txt"}}},
{"data":{"values":[{"x":0.963,"y":0.899,"txt":"Model System II"}]},"mark":{"type":"text","fontSize":24,"align":"right"},"encoding":{"text":{"field":"txt"}}},
{"data":{"values":[{"x":0.227,"y":0.805,"txt":"from O-rich"},{"x":0.227,"y":0.75,"txt":"conditions"}]},"mark":{"type":"text","fontSize":15.5,"color":"#ee1c25"},"encoding":{"text":{"field":"txt"}}},
{"data":{"values":[{"x":0.081,"y":0.165,"txt":"from CO-rich"},{"x":0.081,"y":0.113,"txt":"conditions after"},{"x":0.081,"y":0.062,"txt":"180, 300, 420,"},{"x":0.081,"y":0.012,"txt":"600, 900 s"}]},"mark":{"type":"text","fontSize":15.5},"encoding":{"text":{"field":"txt"}}}
]},
{"width":74,"height":334,"view":{"stroke":null},"data":{"values":[{"a":1}]},"mark":{"type":"text","text":" "}},
{"width":368,"height":334,
"encoding":{"x":{"field":"t","type":"quantitative","scale":{"domain":[-115,1098]},"axis":{"values":[-100,0,100,200,300,400,500,600,700,800,900,1000],"labels":false,"title":null}},
"y":{"field":"v","type":"quantitative","scale":{"domain":[0,1000]},"axis":null}},
"layer":[
{"data":{"name":"traces"},"transform":[{"fold":["Er","Eb"],"as":["s","v"]}],"mark":{"type":"line","strokeWidth":1.2,"clip":true},"encoding":{"color":{"field":"s","type":"nominal","scale":{"domain":["Eb","Er"],"range":["#000000","#ee1c25"]},"legend":null}}},
{"data":{"values":[{"t":0,"v":0},{"t":0,"v":1000}]},"mark":{"type":"line","color":"#000000","strokeWidth":1.6,"strokeDash":[4,3]},"encoding":{}},
{"data":{"values":[{"t":-78,"v":893,"txt":"E"}]},"mark":{"type":"text","fontSize":20},"encoding":{"text":{"field":"txt"}}},
{"data":{"values":[{"t":494,"v":893,"txt":"Model System II"}]},"mark":{"type":"text","fontSize":24,"clip":true},"encoding":{"text":{"field":"txt"}}},
{"data":{"values":[{"t":363,"v":514,"b":"T"},{"t":363,"v":462,"b":"x"}]},"mark":{"type":"text","fontSize":16},"encoding":{"text":{"field":"b"}}},
{"data":{"values":[{"t":363,"v":514,"s":"S","r":"= 415 K"}]},"mark":{"type":"text","fontSize":12,"dx":10,"dy":4},"encoding":{"text":{"field":"s"}}},
{"data":{"values":[{"t":363,"v":514,"s":"S","r":"= 415 K"}]},"mark":{"type":"text","fontSize":16,"dx":20},"encoding":{"text":{"field":"r"}}},
{"data":{"values":[{"t":363,"v":462,"s":"CO","r":"= 0.26"}]},"mark":{"type":"text","fontSize":12,"dx":9,"dy":4},"encoding":{"text":{"field":"s"}}},
{"data":{"values":[{"t":363,"v":462,"s":"CO","r":"= 0.26"}]},"mark":{"type":"text","fontSize":16,"dx":29},"encoding":{"text":{"field":"r"}}},
{"data":{"values":[{"t":106,"v":183,"txt":"O₂ beam on (continuous CO beam)"}]},"mark":{"type":"text","fontSize":16},"encoding":{"text":{"field":"txt"}}},
{"data":{"values":[{"t":106,"v":122,"txt":"CO beam on (continuous O₂ beam)"}]},"mark":{"type":"text","fontSize":16,"color":"#ee1c25"},"encoding":{"text":{"field":"txt"}}},
{"data":{"values":[{"t":99,"v":114},{"t":27,"v":36}]},"mark":{"type":"line","color":"#000000","strokeWidth":1.5},"encoding":{}},
{"data":{"values":[{"t":27,"v":36}]},"mark":{"type":"point","shape":"triangle-up","angle":220,"size":150,"filled":true,"opacity":1,"color":"#000000"},"encoding":{}}
]},
{"width":366,"height":332,
"encoding":{"x":{"field":"x","type":"quantitative","scale":{"domain":[0,1]},"axis":{"values":[0,0.1,0.2,0.3,0.4,0.5,0.6,0.7,0.8,0.9,1],"labelExpr":"round(datum.value*10) % 2 === 0 ? format(datum.value, '.1f') : ''","title":null}},
"y":{"field":"y","type":"quantitative","scale":{"domain":[0,1]},"axis":null}},
"layer":[
{"data":{"name":"C_curves"},"transform":[{"fold":["r"],"as":["c","y"]}],"mark":{"type":"line","color":"#ee1c25","strokeWidth":2},"encoding":{}},
{"data":{"name":"C_curves"},"transform":[{"fold":["b"],"as":["c","y"]}],"mark":{"type":"line","color":"#000000","strokeWidth":2},"encoding":{}},
{"data":{"name":"C_dots"},"mark":{"type":"point","filled":true,"size":30,"opacity":1},"encoding":{"color":{"field":"s","type":"nominal","scale":{"domain":["b","r"],"range":["#000000","#ee1c25"]},"legend":null}}},
{"data":{"values":[{"x":0.044,"y":0.898,"txt":"C"}]},"mark":{"type":"text","fontSize":20},"encoding":{"text":{"field":"txt"}}},
{"data":{"values":[{"x":0.937,"y":0.876,"txt":"Model System III"}]},"mark":{"type":"text","fontSize":24,"align":"right"},"encoding":{"text":{"field":"txt"}}},
{"data":{"values":[{"x":0.286,"y":0.506,"b":"T","s":"S","r":"= 400 K"}]},"mark":{"type":"text","fontSize":16},"encoding":{"text":{"field":"b"}}},
{"data":{"values":[{"x":0.286,"y":0.506,"b":"T","s":"S","r":"= 400 K"}]},"mark":{"type":"text","fontSize":12,"dx":10,"dy":4},"encoding":{"text":{"field":"s"}}},
{"data":{"values":[{"x":0.286,"y":0.506,"b":"T","s":"S","r":"= 400 K"}]},"mark":{"type":"text","fontSize":16,"dx":20},"encoding":{"text":{"field":"r"}}},
{"data":{"values":[{"x":0.11,"y":0.111,"txt":"from CO-rich"},{"x":0.11,"y":0.066,"txt":"conditions after 180 s"}]},"mark":{"type":"text","fontSize":15},"encoding":{"text":{"field":"txt"}}},
{"data":{"values":[{"x":0.374,"y":0.111,"txt":"(O-rich)"}]},"mark":{"type":"text","fontSize":15,"color":"#ee1c25"},"encoding":{"text":{"field":"txt"}}},
{"data":{"values":[{"x":0.5,"y":0,"t1":"x","t2":"CO"}]},"mark":{"type":"text","fontSize":19,"align":"right","dy":38},"encoding":{"text":{"field":"t1"}}},
{"data":{"values":[{"x":0.5,"y":0,"t1":"x","t2":"CO"}]},"mark":{"type":"text","fontSize":14,"align":"left","dy":42},"encoding":{"text":{"field":"t2"}}}
]},
{"width":74,"height":332,"view":{"stroke":null},"data":{"values":[{"a":1}]},"mark":{"type":"text","text":" "}},
{"width":368,"height":332,
"encoding":{"x":{"field":"t","type":"quantitative","scale":{"domain":[-115,1098]},"axis":{"values":[-100,0,100,200,300,400,500,600,700,800,900,1000],"format":"d","labelExpr":"datum.value >= 0 && datum.value % 200 === 0 ? datum.label : ''","title":"t [s]","titleFontSize":18,"titleX":211,"titleY":39,"titleBaseline":"alphabetic","titleAlign":"center"}},
"y":{"field":"v","type":"quantitative","scale":{"domain":[0,1000]},"axis":null}},
"layer":[
{"data":{"name":"traces"},"transform":[{"fold":["Fb","Fr"],"as":["s","v"]}],"mark":{"type":"line","strokeWidth":1.2,"clip":true},"encoding":{"color":{"field":"s","type":"nominal","scale":{"domain":["Fb","Fr"],"range":["#000000","#ee1c25"]},"legend":null}}},
{"data":{"values":[{"t":0,"v":0},{"t":0,"v":1000}]},"mark":{"type":"line","color":"#000000","strokeWidth":1.6,"strokeDash":[4,3]},"encoding":{}},
{"data":{"values":[{"t":-72,"v":899,"txt":"F"}]},"mark":{"type":"text","fontSize":20},"encoding":{"text":{"field":"txt"}}},
{"data":{"values":[{"t":450,"v":869,"txt":"Model System III"}]},"mark":{"type":"text","fontSize":24,"clip":true},"encoding":{"text":{"field":"txt"}}},
{"data":{"values":[{"t":381,"v":732,"b":"T"},{"t":381,"v":676,"b":"x"}]},"mark":{"type":"text","fontSize":16},"encoding":{"text":{"field":"b"}}},
{"data":{"values":[{"t":381,"v":732,"s":"S","r":"= 415 K"}]},"mark":{"type":"text","fontSize":12,"dx":10,"dy":4},"encoding":{"text":{"field":"s"}}},
{"data":{"values":[{"t":381,"v":732,"s":"S","r":"= 415 K"}]},"mark":{"type":"text","fontSize":16,"dx":20},"encoding":{"text":{"field":"r"}}},
{"data":{"values":[{"t":381,"v":676,"s":"CO","r":"= 0.26"}]},"mark":{"type":"text","fontSize":12,"dx":9,"dy":4},"encoding":{"text":{"field":"s"}}},
{"data":{"values":[{"t":381,"v":676,"s":"CO","r":"= 0.26"}]},"mark":{"type":"text","fontSize":16,"dx":29},"encoding":{"text":{"field":"r"}}}
]}
]
}
